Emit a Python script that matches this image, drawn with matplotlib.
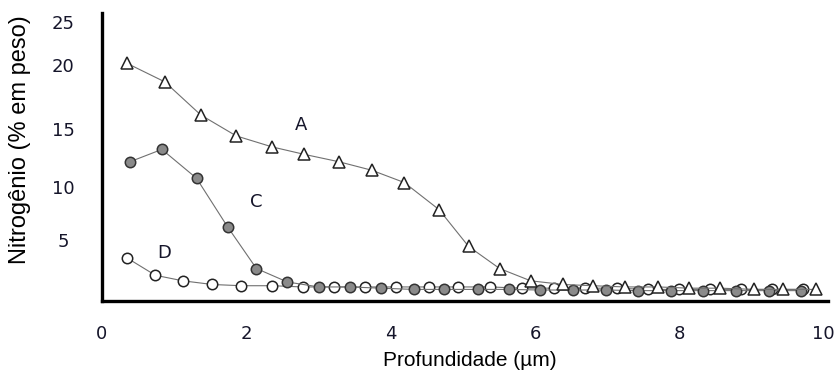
import matplotlib
matplotlib.use("Agg")
import matplotlib.pyplot as plt
from matplotlib.ticker import FixedLocator, FixedFormatter

plt.rcParams['font.family'] = ['Liberation Sans', 'DejaVu Sans']

# curve A (open triangles)
a_x = [0.35, 0.87, 1.37, 1.86, 2.36, 2.80, 3.28, 3.74, 4.19, 4.67, 5.08,
       5.51, 5.94, 6.39, 6.80, 7.25, 7.71, 8.14, 8.57, 9.03, 9.44, 9.89]
a_y = [20.0, 18.5, 15.8, 14.1, 13.2, 12.6, 12.0, 11.3, 10.3, 8.1, 5.1,
       3.3, 2.3, 2.0, 1.9, 1.8, 1.8, 1.7, 1.7, 1.6, 1.6, 1.6]

# curve C (grey filled circles)
c_x = [0.39, 0.83, 1.31, 1.74, 2.14, 2.57, 3.01, 3.44, 3.86, 4.32, 4.74,
       5.21, 5.64, 6.07, 6.53, 6.99, 7.43, 7.88, 8.33, 8.78, 9.24, 9.68]
c_y = [12.0, 13.0, 10.65, 6.7, 3.3, 2.2, 1.8, 1.8, 1.7, 1.6, 1.6,
       1.6, 1.6, 1.55, 1.55, 1.55, 1.5, 1.5, 1.5, 1.5, 1.5, 1.5]

# curve D (open circles)
d_x = [0.35, 0.74, 1.12, 1.53, 1.93, 2.36, 2.78, 3.21, 3.65, 4.08, 4.53,
       4.94, 5.38, 5.82, 6.26, 6.69, 7.13, 7.56, 7.99, 8.42, 8.85, 9.28, 9.71]
d_y = [4.15, 2.75, 2.3, 2.0, 1.9, 1.9, 1.8, 1.8, 1.8, 1.8, 1.8,
       1.8, 1.8, 1.7, 1.7, 1.7, 1.7, 1.6, 1.6, 1.6, 1.6, 1.6, 1.6]

x_ticks = [0, 2, 4, 6, 8, 10]
y_tick_pos = [5.6, 9.9, 14.7, 19.9, 23.4]
y_tick_labels = ['5', '10', '15', '20', '25']

fig = plt.figure(figsize=(8.38, 3.74), dpi=100)
ax = fig.add_axes([0.1217, 0.195, 0.8663, 0.77])

line_kw = dict(color='#707070', lw=0.8)
ax.plot(d_x, d_y, marker='o', ms=7.5, mfc='white', mec='#222222', mew=1.1, **line_kw)
ax.plot(c_x, c_y, marker='o', ms=7.5, mfc='#8a8a8a', mec='#333333', mew=1.1, **line_kw)
ax.plot(a_x, a_y, marker='^', ms=8, mfc='white', mec='#222222', mew=1.1, **line_kw)

lbl_kw = dict(fontsize=13, ha='center', va='center', color='#15152a', family='DejaVu Sans')
ax.text(2.76, 15.0, 'A', **lbl_kw)
ax.text(2.14, 8.7, 'C', **lbl_kw)
ax.text(0.86, 4.55, 'D', **lbl_kw)

ax.set_xlim(0, 10.06)
ax.set_ylim(0.65, 24.1)
ax.set_xticks(x_ticks)
ax.yaxis.set_major_locator(FixedLocator(y_tick_pos))
ax.yaxis.set_major_formatter(FixedFormatter(y_tick_labels))
ax.tick_params(axis='both', length=0, labelsize=13, colors='#15152a')
ax.tick_params(axis='x', pad=17)
ax.tick_params(axis='y', pad=28)
for t in ax.get_xticklabels() + ax.get_yticklabels():
    t.set_family('DejaVu Sans')
for t in ax.get_yticklabels():
    t.set_ha('center')

for side in ('top', 'right'):
    ax.spines[side].set_visible(False)
for side in ('left', 'bottom'):
    ax.spines[side].set_linewidth(2.4)
    ax.spines[side].set_color('black')

ax.set_xlabel('Profundidade (µm)', fontsize=15)
ax.set_ylabel('Nitrogênio (% em peso)', fontsize=17)
ax.xaxis.set_label_coords(0.507, -0.172)
ax.yaxis.set_label_coords(-0.098, 0.56)

fig.savefig('out.png', dpi=100)
